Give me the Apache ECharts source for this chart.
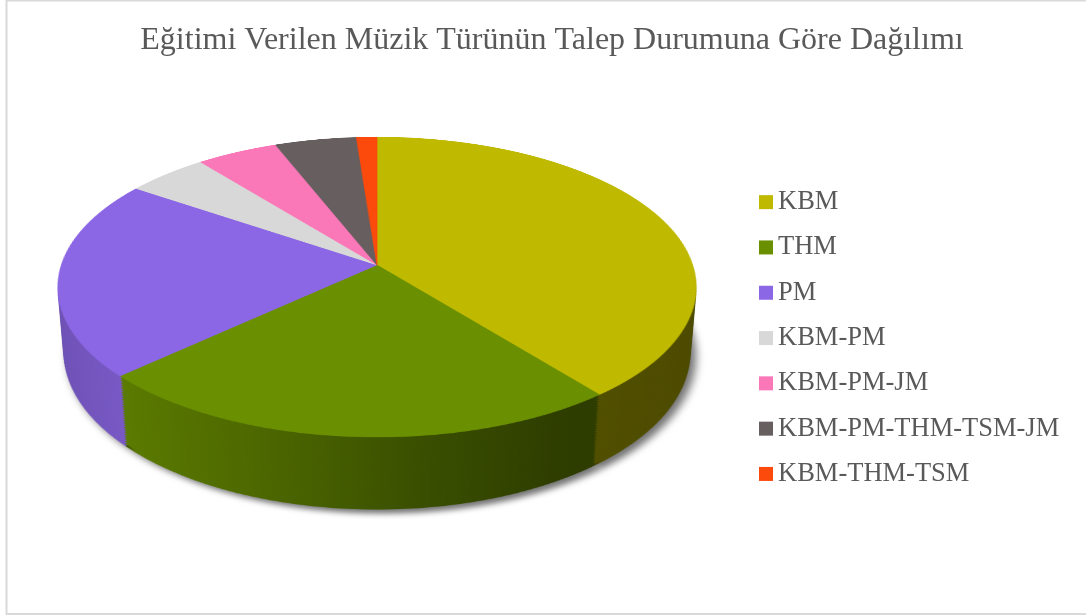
<!DOCTYPE html>
<html lang="tr">
<head>
<meta charset="utf-8">
<title>Müzik Türü Talep Dağılımı</title>
<script src="https://cdn.jsdelivr.net/npm/echarts@6/dist/echarts.min.js"></script>
<style>
    html, body {margin: 0; padding: 0; background: #fff;}
    #wrap {position: relative; width: 1086px; height: 616px; overflow: hidden;}
    /* perspective origin sits on the pie apex */
    #scene {position: absolute; left: 0; top: 0; width: 1086px; height: 616px;
            perspective: 1905px; perspective-origin: 376.5px 265px;}
    .layer {position: absolute; left: 26.5px; top: -85px; width: 700px; height: 700px;
            transform-origin: 350px 350px;}
    #overlay {position: absolute; left: 0; top: 0; width: 1086px; height: 616px;}
</style>
</head>
<body>
<div id="wrap">
    <div id="scene"></div>
    <div id="overlay"></div>
</div>

<script type="text/javascript">
    // veriler
    var categories = ['KBM', 'THM', 'PM', 'KBM-PM', 'KBM-PM-JM', 'KBM-PM-THM-TSM-JM', 'KBM-THM-TSM'];
    var counts = [33, 20, 18, 4, 4, 4, 1];
    var colors = ['#bfb900', '#6a8f00', '#8c67e5', '#d8d8d8', '#fb78b8', '#665e5f', '#fc4a0c'];

    var R = 315.6;       // pie radius before tilt
    var TILT = 62.28;    // rotateX, degrees
    var DEPTH = 75;      // thickness of the pie
    var STEP = 2.5;

    function shade(hex, f) {
        var n = parseInt(hex.slice(1), 16);
        var r = Math.round(((n >> 16) & 255) * f);
        var g = Math.round(((n >> 8) & 255) * f);
        var b = Math.round((n & 255) * f);
        return 'rgb(' + r + ',' + g + ',' + b + ')';
    }

    // light on the left side, darker to the right
    var sideStops = [[0, 0.78], [0.13, 0.86], [0.35, 0.72], [0.56, 0.55], [0.76, 0.43], [1, 0.40]];
    function sideColor(hex) {
        var stops = sideStops.map(function (s) {
            return {offset: s[0], color: shade(hex, s[1])};
        });
        return new echarts.graphic.LinearGradient(350 - R, 0, 350 + R, 0, stops, true);
    }

    function pieOption(isTop, isBottom) {
        return {
            animation: false,
            series: [{
                type: 'pie',
                silent: true,
                radius: R,
                center: [350, 350],
                startAngle: 90,
                label: {show: false},
                labelLine: {show: false},
                data: counts.map(function (v, i) {
                    var c = isTop ? colors[i] : sideColor(colors[i]);
                    var style = {color: c, borderColor: c, borderWidth: isTop ? 0.8 : 0};
                    if (isBottom) {
                        style.shadowColor = 'rgba(0,0,0,0.55)';
                        style.shadowBlur = 9;
                        style.shadowOffsetX = 5;
                        style.shadowOffsetY = 6;
                    }
                    return {value: v, name: categories[i], itemStyle: style};
                })
            }]
        };
    }

    // stacked layers, bottom first, top face last
    var scene = document.getElementById('scene');
    var n = Math.round(DEPTH / STEP);
    for (var k = n; k >= 0; k--) {
        var div = document.createElement('div');
        div.className = 'layer';
        div.style.transform = 'rotateX(' + TILT + 'deg) translateZ(' + (-k * STEP) + 'px)';
        scene.appendChild(div);
        var chart = echarts.init(div, null, {devicePixelRatio: 2});
        chart.setOption(pieOption(k === 0, k === n));
    }

    // title, legend and frame
    var overlay = echarts.init(document.getElementById('overlay'));
    overlay.setOption({
        animation: false,
        color: colors,
        title: {
            text: 'Eğitimi Verilen Müzik Türünün Talep Durumuna Göre Dağılımı',
            left: 547,
            textAlign: 'center',
            top: 20,
            textStyle: {
                fontFamily: 'Liberation Serif',
                fontSize: 32,
                fontWeight: 'normal',
                color: '#595959'
            }
        },
        legend: {
            orient: 'vertical',
            left: 754,
            top: 183,
            icon: 'rect',
            itemWidth: 14,
            itemHeight: 14,
            itemGap: 17,
            selectedMode: false,
            textStyle: {
                fontFamily: 'Liberation Serif',
                fontSize: 26.5,
                lineHeight: 28.3,
                color: '#595959'
            },
            data: categories
        },
        graphic: [{
            type: 'rect',
            silent: true,
            shape: {x: 6.5, y: 0.5, width: 1100, height: 613.5},
            style: {fill: 'none', stroke: '#d9d9d9', lineWidth: 2}
        }],
        series: [{
            // only feeds the legend
            type: 'pie',
            silent: true,
            radius: 0,
            center: [-50, -50],
            label: {show: false},
            labelLine: {show: false},
            data: counts.map(function (v, i) {
                return {value: v, name: categories[i]};
            })
        }]
    });
</script>
</body>
</html>
